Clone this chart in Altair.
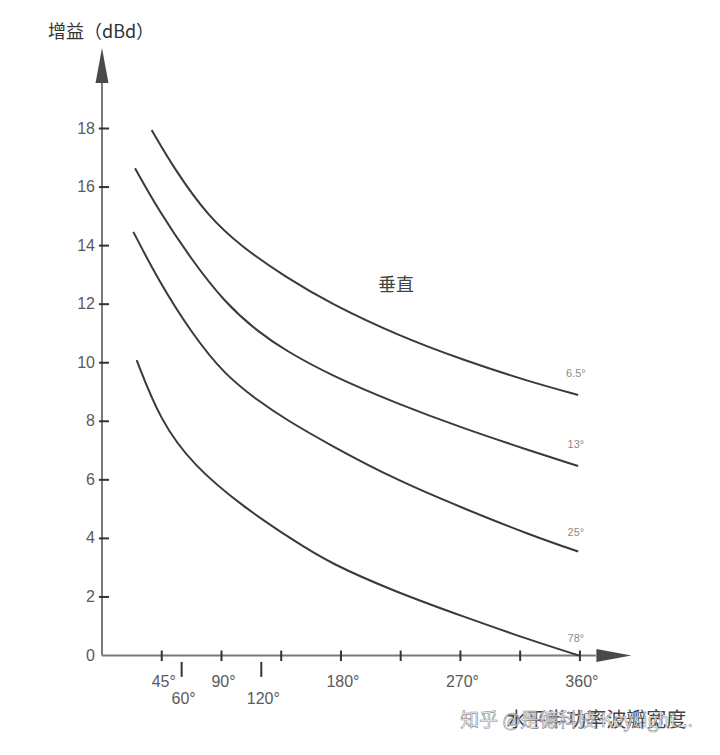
import altair as alt
import pandas as pd

# ---- data ----
series_names = ["6.5°", "13°", "25°", "78°"]
x_65 = [37.4, 55.0, 80.1, 105.2, 137.8, 171.7, 221.9, 272.1, 322.3, 358.7]
y_65 = [17.95, 16.58, 14.99, 13.96, 12.94, 12.03, 10.95, 10.09, 9.35, 8.90]
x_13 = [24.9, 42.4, 67.6, 92.6, 117.7, 137.8, 171.7, 221.9, 272.1, 322.3, 358.7]
y_13 = [16.64, 15.22, 13.51, 12.05, 11.05, 10.43, 9.58, 8.61, 7.76, 7.00, 6.47]
x_25 = [23.6, 42.4, 67.6, 92.6, 117.7, 137.8, 171.7, 221.9, 272.1, 322.3, 358.7]
y_25 = [14.47, 12.82, 11.00, 9.58, 8.70, 8.08, 7.19, 5.99, 5.03, 4.12, 3.55]
x_78 = [26.1, 43.7, 68.6, 106.2, 143.9, 171.7, 221.9, 272.1, 322.3, 359.2]
y_78 = [10.09, 8.04, 6.50, 5.08, 3.94, 3.15, 2.16, 1.33, 0.53, 0.0]

label_gain = [9.61, 7.19, 4.18, 0.56]

y_ticks = [2, 4, 6, 8, 10, 12, 14, 16, 18]
y_labels = [0, 2, 4, 6, 8, 10, 12, 14, 16, 18]
x_ticks = [45, 90, 135, 180, 225, 270, 315, 360]
x_low_ticks = [60, 120]
x_labels_row1 = [45, 90, 180, 270, 360]
x_labels_row2 = [60, 120]

XD = [0, 400]
YD = [0, 20.75]

FONT = "Liberation Sans"
CJK = "Noto Sans CJK SC"


def X(field="x"):
    return alt.X(f"{field}:Q", scale=alt.Scale(domain=XD, nice=False, zero=False), axis=None)


def Y(field="y"):
    return alt.Y(f"{field}:Q", scale=alt.Scale(domain=YD, nice=False, zero=False), axis=None)


# curves
rows = []
for name, xs, ys in [("6.5°", x_65, y_65), ("13°", x_13, y_13), ("25°", x_25, y_25), ("78°", x_78, y_78)]:
    for a, b in zip(xs, ys):
        rows.append({"series": name, "x": a, "y": b})
curves_df = pd.DataFrame(rows)

curves = alt.Chart(curves_df).mark_line(
    interpolate="basis", color="#3a3a3a", strokeWidth=2
).encode(x=X(), y=Y(), detail="series:N")

curve_labels = alt.Chart(pd.DataFrame({"t": series_names, "x": [357] * 4, "y": label_gain})).mark_text(
    font=FONT, fontSize=11, color="#8a8a8a"
).encode(x=X(), y=Y(), text="t:N")

# axes lines
axis_lines = alt.Chart(pd.DataFrame({"x": [0, 0], "x2": [0, 372], "y": [0, 0], "y2": [19.6, 0]})).mark_rule(
    color="#7a7a7a", strokeWidth=2
).encode(x=X(), x2="x2:Q", y=Y(), y2="y2:Q")

up_arrow = alt.Chart(pd.DataFrame({"x": [0], "y": [20.15]})).mark_point(
    shape="M0,-1L0.37,1L-0.37,1Z", size=1225, filled=True, color="#4a4a4a", opacity=1
).encode(x=X(), y=Y())

right_arrow = alt.Chart(pd.DataFrame({"x": [385.6], "y": [0]})).mark_point(
    shape="M1,0L-1,-0.37L-1,0.37Z", size=1225, filled=True, color="#4a4a4a", opacity=1
).encode(x=X(), y=Y())

# ticks
ytick = alt.Chart(pd.DataFrame({"y": y_ticks})).mark_rule(color="#333333", strokeWidth=2).encode(
    x=alt.X("a:Q", scale=alt.Scale(domain=XD, nice=False, zero=False), axis=None),
    x2="b:Q", y=Y()
).transform_calculate(a="-2.3", b="5.3")

xtick = alt.Chart(pd.DataFrame({"x": x_ticks})).mark_rule(color="#333333", strokeWidth=2).encode(
    x=X(),
    y=alt.Y("a:Q", scale=alt.Scale(domain=YD, nice=False, zero=False), axis=None),
    y2="b:Q",
).transform_calculate(a="0.17", b="-0.19")

xtick_low = alt.Chart(pd.DataFrame({"x": x_low_ticks})).mark_rule(color="#333333", strokeWidth=2).encode(
    x=X(),
    y=alt.Y("a:Q", scale=alt.Scale(domain=YD, nice=False, zero=False), axis=None),
    y2="b:Q",
).transform_calculate(a="-0.22", b="-0.73")

# tick labels
ylab = alt.Chart(pd.DataFrame({"y": y_labels})).mark_text(
    font=FONT, fontSize=16, color="#5a5a5a", align="right", baseline="middle"
).encode(
    x=alt.X("a:Q", scale=alt.Scale(domain=XD, nice=False, zero=False), axis=None),
    y=Y(), text="t:N"
).transform_calculate(a="-5.3", t="toString(datum.y)")

xlab1 = alt.Chart(pd.DataFrame({"x": x_labels_row1})).mark_text(
    font=FONT, fontSize=16, color="#5a5a5a", align="center", baseline="middle", dx=2
).encode(
    x=X(), y=alt.Y("a:Q", scale=alt.Scale(domain=YD, nice=False, zero=False), axis=None), text="t:N"
).transform_calculate(a="-0.89", t="toString(datum.x) + '°'")

xlab2 = alt.Chart(pd.DataFrame({"x": x_labels_row2})).mark_text(
    font=FONT, fontSize=16, color="#5a5a5a", align="center", baseline="middle", dx=2
).encode(
    x=X(), y=alt.Y("a:Q", scale=alt.Scale(domain=YD, nice=False, zero=False), axis=None), text="t:N"
).transform_calculate(a="-1.47", t="toString(datum.x) + '°'")

# titles / annotations
texts_df = pd.DataFrame({
    "t": ["增益（dBd）", "垂直", "水平半功率波瓣宽度"],
    "x": [-40.7, 221.4, 372.4],
    "y": [21.26, 12.62, -2.24],
})
ytitle = alt.Chart(texts_df.iloc[[0]]).mark_text(
    font=CJK, fontSize=18, color="#333333", align="left", baseline="middle"
).encode(x=X(), y=Y(), text="t:N")
vlabel = alt.Chart(texts_df.iloc[[1]]).mark_text(
    font=CJK, fontSize=18, color="#444444", align="center", baseline="middle"
).encode(x=X(), y=Y(), text="t:N")
xtitle = alt.Chart(texts_df.iloc[[2]]).mark_text(
    font=CJK, fontSize=20, color="#444444", align="center", baseline="middle"
).encode(x=X(), y=Y(), text="t:N")

wm_df = pd.DataFrame({"t": ["知乎 @是德科技 Keysight..."], "x": [357.4], "y": [-2.24]})
watermark = alt.Chart(wm_df).mark_text(
    font=CJK, fontSize=19, fill="#ffffff", fillOpacity=0.75, stroke="#8c8c8c", strokeWidth=0.6,
    align="center", baseline="middle"
).encode(x=X(), y=Y(), text="t:N")

chart = alt.layer(
    axis_lines, up_arrow, right_arrow, ytick, xtick, xtick_low,
    ylab, xlab1, xlab2, curves, curve_labels, ytitle, vlabel, xtitle, watermark
).properties(
    width=531, height=607.5,
    autosize=alt.AutoSizeParams(type="none"),
    padding={"left": 94, "top": 40, "right": 70, "bottom": 85},
    background="white",
).configure_view(stroke=None)

chart.save("out.html", embed_options={"renderer": "svg", "actions": False})
